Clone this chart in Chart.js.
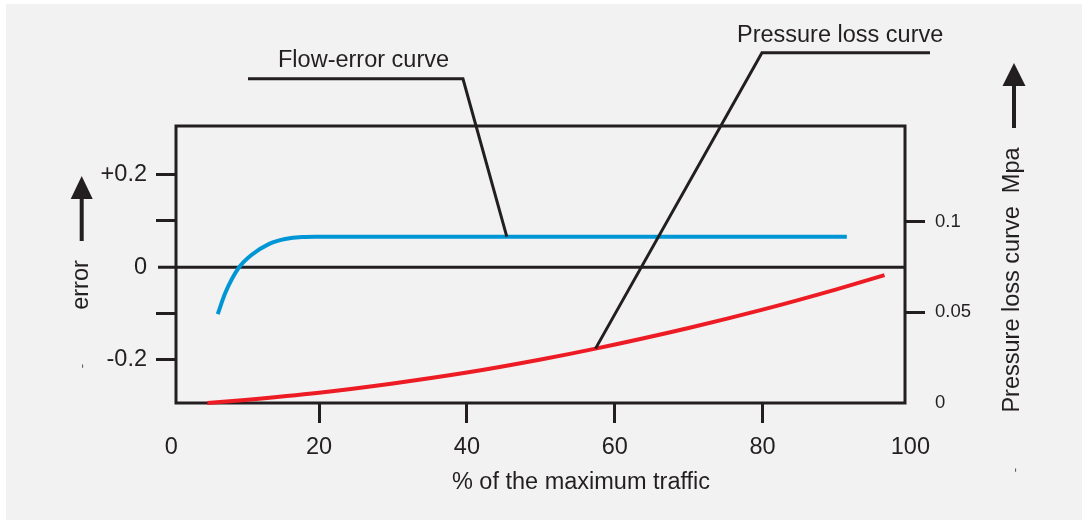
<!DOCTYPE html>
<html>
<head>
<meta charset="utf-8">
<script src="https://cdn.jsdelivr.net/npm/chart.js@4"></script>
<style>
  html, body { margin: 0; padding: 0; background: #ffffff; }
  #wrap { width: 1082px; height: 520px; }
</style>
</head>
<body>
<div id="wrap"><canvas id="trafficChart" width="1082" height="520"></canvas></div>
<script>
// Eixo X: % do tráfego máximo
const xTickValues = [0, 20, 40, 60, 80, 100];

// Eixo esquerdo: erro
const errorTickValues = [-0.2, -0.1, 0, 0.1, 0.2];
const errorTickLabels = ["-0.2", "", "0", "", "+0.2"];

// Eixo direito: perda de pressão (Mpa)
const pressureTickValues = [0, 0.05, 0.1];
const pressureTickLabels = ["0", "0.05", "0.1"];

// Curva de erro de vazão (azul, eixo esquerdo)
const flowErrorX = [6.3, 7.3, 9.1, 10.9, 13.2, 15.4, 17.7, 19.5, 91.4];
const flowErrorY = [-0.101, -0.056, -0.002, 0.027, 0.050, 0.061, 0.0655, 0.066, 0.066];

// Curva de perda de pressão (vermelha, eixo direito)
const pressureX = [4.9, 10, 20, 30, 40, 50, 57.4, 70, 80, 90, 96.5];
const pressureY = [0, 0.0017, 0.0057, 0.0108, 0.0168, 0.0240, 0.0300, 0.0414, 0.0515, 0.0627, 0.0705];

const ink = "#231f20";
const blue = "#0096d6";
const red = "#ed1c24";
const fontFamily = "'Liberation Sans', Arial, Helvetica, sans-serif";

function drawArrow(ctx, x, tipY, baseY, tailY, half) {
    ctx.beginPath();
    ctx.moveTo(x, tipY);
    ctx.lineTo(x - half, baseY);
    ctx.lineTo(x + half, baseY);
    ctx.closePath();
    ctx.fill();
    ctx.fillRect(x - 2, baseY - 1, 4, tailY - baseY + 1);
}

function rotatedText(ctx, text, x, y) {
    ctx.save();
    ctx.translate(x, y);
    ctx.rotate(-Math.PI / 2);
    ctx.fillText(text, 0, 0);
    ctx.restore();
}

// Fundo, moldura, linha do zero e anotações
const decorPlugin = {
    id: "decor",
    beforeDraw(chart) {
        const ctx = chart.ctx;
        ctx.save();
        ctx.fillStyle = "#ffffff";
        ctx.fillRect(0, 0, chart.width, chart.height);
        ctx.fillStyle = "#f2f2f2";
        ctx.fillRect(6, 4, chart.width - 6, chart.height - 4);
        ctx.restore();
    },
    beforeDatasetsDraw(chart) {
        const { ctx, chartArea: a, scales } = chart;
        const y0 = scales.y.getPixelForValue(0);
        ctx.save();
        ctx.strokeStyle = ink;
        ctx.lineWidth = 3;
        ctx.beginPath();
        ctx.moveTo(a.left - 18, y0);
        ctx.lineTo(a.right, y0);
        ctx.stroke();
        ctx.strokeRect(a.left, a.top, a.right - a.left, a.bottom - a.top);
        ctx.restore();
    },
    afterDraw(chart) {
        const { ctx, scales } = chart;
        const sx = scales.x, sy = scales.y, sy2 = scales.y2;
        ctx.save();
        ctx.strokeStyle = ink;
        ctx.fillStyle = ink;
        ctx.lineWidth = 3;
        ctx.lineJoin = "miter";

        // linha de chamada da curva de erro
        ctx.beginPath();
        ctx.moveTo(sx.getPixelForValue(10.39), sy.getPixelForValue(0.407));
        ctx.lineTo(sx.getPixelForValue(39.47), sy.getPixelForValue(0.407));
        ctx.lineTo(sx.getPixelForValue(45.4), sy.getPixelForValue(flowErrorY[flowErrorY.length - 1]));
        ctx.stroke();

        // linha de chamada da curva de pressão
        ctx.beginPath();
        ctx.moveTo(sx.getPixelForValue(102.65), sy.getPixelForValue(0.463));
        ctx.lineTo(sx.getPixelForValue(79.92), sy.getPixelForValue(0.463));
        ctx.lineTo(sx.getPixelForValue(pressureX[6]), sy2.getPixelForValue(pressureY[6]));
        ctx.stroke();

        ctx.font = "23.5px " + fontFamily;
        ctx.textBaseline = "alphabetic";
        ctx.textAlign = "left";
        ctx.fillText("Flow-error curve", sx.getPixelForValue(14.45), sy.getPixelForValue(0.4333));
        ctx.fillText("Pressure loss curve", sx.getPixelForValue(76.54), sy.getPixelForValue(0.486));

        ctx.textAlign = "center";
        ctx.fillText("% of the maximum traffic", 581, 489);
        rotatedText(ctx, "error", 88, 285);
        rotatedText(ctx, "Pressure loss curve  Mpa", 1019, 280);

        drawArrow(ctx, 81.7, 176, 199, 241, 11);
        drawArrow(ctx, 1014, 63, 86, 128, 11.5);

        ctx.fillStyle = "#555555";
        ctx.font = "13px " + fontFamily;
        rotatedText(ctx, "-", 86, 366);
        rotatedText(ctx, "-", 1019, 470);
        ctx.restore();
    },
};

const hideTick = (values) => (c) =>
    c.tick && values.includes(c.tick.value) ? "rgba(0,0,0,0)" : ink;

const trafficChart = new Chart(document.getElementById("trafficChart"), {
    type: "line",
    data: {
        datasets: [
            {
                label: "Flow-error curve",
                data: flowErrorX.map((x, i) => ({ x: x, y: flowErrorY[i] })),
                yAxisID: "y",
                borderColor: blue,
                borderWidth: 4,
                pointRadius: 0,
                cubicInterpolationMode: "monotone",
                fill: false,
                clip: false,
            },
            {
                label: "Pressure loss curve",
                data: pressureX.map((x, i) => ({ x: x, y: pressureY[i] })),
                yAxisID: "y2",
                borderColor: red,
                borderWidth: 4,
                pointRadius: 0,
                cubicInterpolationMode: "monotone",
                fill: false,
                clip: false,
            },
        ],
    },
    options: {
        responsive: false,
        animation: false,
        layout: { padding: { top: 126, left: 0, right: 0, bottom: 0 } },
        plugins: {
            legend: { display: false },
            tooltip: { enabled: false },
        },
        scales: {
            x: {
                type: "linear",
                position: "bottom",
                min: 0.65,
                max: 99.27,
                afterBuildTicks: (s) => { s.ticks = xTickValues.map((v) => ({ value: v })); },
                afterFit: (s) => { s.height = 117; },
                border: { display: false },
                grid: {
                    drawOnChartArea: false,
                    tickLength: 20,
                    tickWidth: 3,
                    tickColor: hideTick([0, 100]),
                },
                ticks: {
                    autoSkip: false,
                    maxRotation: 0,
                    padding: 10,
                    color: ink,
                    font: { family: fontFamily, size: 23.5 },
                    callback: (v, i) => String(xTickValues[i]),
                },
            },
            y: {
                type: "linear",
                position: "left",
                min: -0.293,
                max: 0.305,
                afterBuildTicks: (s) => { s.ticks = errorTickValues.map((v) => ({ value: v })); },
                afterFit: (s) => { s.width = 176; },
                border: { display: false },
                grid: {
                    drawOnChartArea: false,
                    tickLength: 20,
                    tickWidth: 3,
                    tickColor: hideTick([0]),
                },
                ticks: {
                    padding: 9,
                    color: ink,
                    font: { family: fontFamily, size: 23.5 },
                    callback: (v, i) => errorTickLabels[i],
                },
            },
            y2: {
                type: "linear",
                position: "right",
                min: 0,
                max: 0.1528,
                afterBuildTicks: (s) => { s.ticks = pressureTickValues.map((v) => ({ value: v })); },
                afterFit: (s) => { s.width = 177; },
                border: { display: false },
                grid: {
                    drawOnChartArea: false,
                    tickLength: 20,
                    tickWidth: 3,
                    tickColor: hideTick([0]),
                },
                ticks: {
                    padding: 10,
                    color: ink,
                    font: { family: fontFamily, size: 18.5 },
                    callback: (v, i) => pressureTickLabels[i],
                },
            },
        },
    },
    plugins: [decorPlugin],
});
</script>
</body>
</html>
